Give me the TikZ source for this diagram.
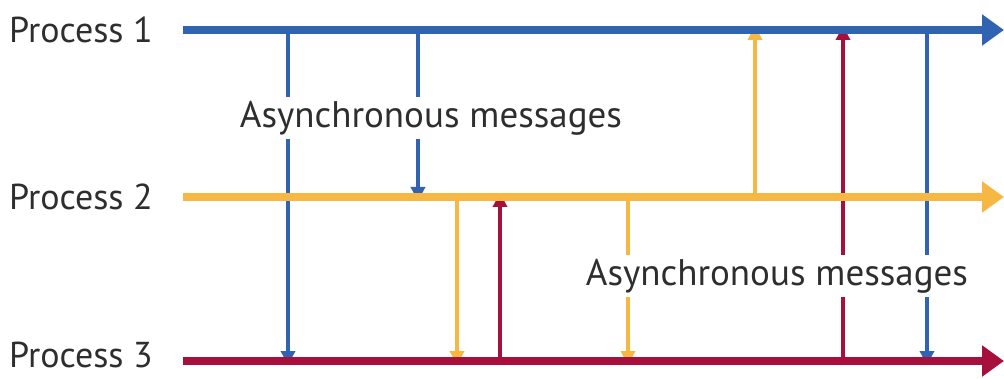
\documentclass[tikz,border=0pt]{standalone}
\usepackage{fontspec}
\setmainfont{PT Sans}
\usetikzlibrary{arrows.meta}
\definecolor{pblue}{HTML}{3064B2}
\definecolor{porange}{HTML}{F6B843}
\definecolor{pred}{HTML}{A5103C}
\begin{document}
\begin{tikzpicture}[x=1pt,y=-1pt,
  timeline/.style={line width=7.5pt,-{Triangle[length=22pt,width=30pt]}},
  msg/.style={line width=3.4pt,-{Triangle[length=14pt,width=14pt]}},
  plabel/.style={anchor=west,inner sep=0pt,font=\fontsize{36}{36}\selectfont,text=black!82},
  mlabel/.style={fill=white,inner sep=4pt,font=\fontsize{37}{37}\selectfont,text=black!82}]
\useasboundingbox[fill=white] (0,0) rectangle (1004,379);
% process labels
\node[plabel] (l1) at (9,30) {Process 1};
\node[plabel] (l2) at (9,197) {Process 2};
\node[plabel] (l3) at (9,355) {Process 3};
% time lines
\coordinate (s1) at (183,30);  \coordinate (e1) at (1004,30);
\coordinate (s2) at (183,197); \coordinate (e2) at (1004,197);
\coordinate (s3) at (183,361); \coordinate (e3) at (1004,361);
% message end points
\foreach \x in {288,418,755,843,927} {\coordinate (t\x) at (\x,30);}
\foreach \x in {418,457,500,628,755} {\coordinate (m\x) at (\x,197);}
\foreach \x in {288,457,500,628,843,927} {\coordinate (b\x) at (\x,361);}
% messages
\draw[msg,pblue] (t288) -- ([yshift=-4pt]b288);
\draw[msg,pblue] (t418) -- ([yshift=-4pt]m418);
\draw[msg,porange] (m457) -- ([yshift=-4pt]b457);
\draw[msg,pred] (b500) -- ([yshift=4pt]m500);
\draw[msg,porange] (m628) -- ([yshift=-4pt]b628);
\draw[msg,porange] (m755) -- ([yshift=4pt]t755);
\draw[msg,pred] (b843) -- ([yshift=4pt]t843);
\draw[msg,pblue] (t927) -- ([yshift=-4pt]b927);
% time lines on top
\draw[timeline,pblue] (s1) -- (e1);
\draw[timeline,porange] (s2) -- (e2);
\draw[timeline,pred] (s3) -- (e3);
% message labels
\node[mlabel] (a1) at (431,118) {Asynchronous messages};
\node[mlabel] (a2) at (777,276) {Asynchronous messages};
\end{tikzpicture}
\end{document}
